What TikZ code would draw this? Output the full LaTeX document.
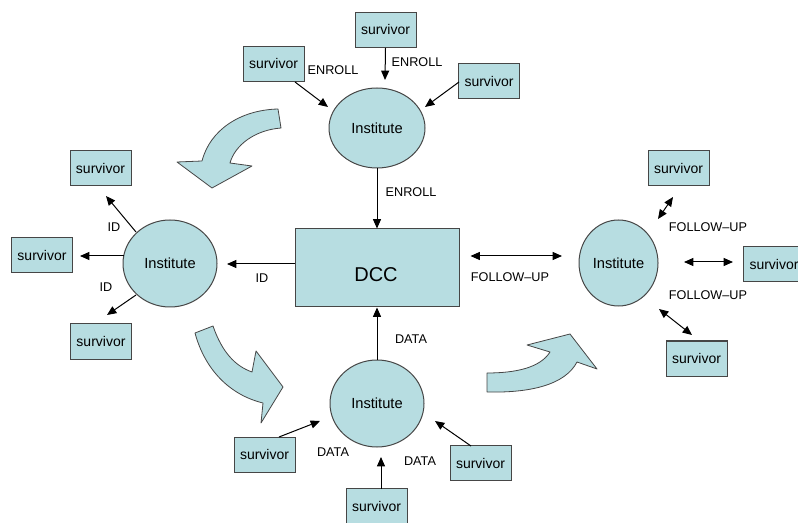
\documentclass[tikz,border=0pt]{standalone}
\usepackage{fontspec}
\setmainfont{Liberation Sans}
\usetikzlibrary{arrows.meta,shapes.geometric,calc}
\definecolor{fillc}{RGB}{183,221,225}
\definecolor{edgec}{RGB}{70,70,70}
\begin{document}
\begin{tikzpicture}[x=0.75pt,y=-0.75pt,
 sbox/.style={draw=edgec,fill=fillc,line width=0.75pt,minimum width=45.75pt,minimum height=26.25pt,inner sep=0pt,font=\fontsize{10.5}{12}\selectfont},
 inst/.style={ellipse,draw=edgec,fill=fillc,line width=0.75pt,inner sep=0pt,font=\fontsize{11}{13}\selectfont},
 lbl/.style={font=\fontsize{9.5}{11}\selectfont,inner sep=0pt},
 arr/.style={-{Triangle[length=7pt,width=6pt]},line width=0.75pt},
 darr/.style={{Triangle[length=7pt,width=6pt]}-{Triangle[length=7pt,width=6pt]},line width=0.75pt},
 bendarrow/.style={draw=edgec,fill=fillc,line width=0.6pt,line join=round}]
\useasboundingbox (0,0) rectangle (798,523);
\clip (0,0) rectangle (798,523);

% curved arrows
\path[bendarrow] (278,109) -- (281,128) .. controls (255,130) and (235,145) .. (230,163)
  -- (252,166) -- (212,188) -- (177,162) -- (202,161) .. controls (210,130) and (240,110) .. cycle;
\path[bendarrow] (195,333) -- (213,326) .. controls (222,352) and (235,366) .. (252,372)
  -- (256,351) -- (283,387) -- (261,423) -- (263,403) .. controls (230,395) and (205,370) .. cycle;
\path[bendarrow] (487,373) -- (487,392) .. controls (530,393) and (565,385) .. (577,362)
  -- (597,369) -- (570,334) -- (527,345) -- (550,352) .. controls (540,368) and (515,373) .. cycle;

% central box
\node[draw=edgec,fill=fillc,line width=0.75pt,minimum width=123pt,minimum height=58.5pt,inner sep=0pt,font=\fontsize{15}{18}\selectfont] (dcc) at (377,268) {};
\node[font=\fontsize{15}{18}\selectfont,inner sep=0pt] (dcct) at (376,275) {DCC};

% institutes
\node[inst,minimum width=72pt,minimum height=60pt] (it) at (377,128) {Institute};
\node[inst,minimum width=70.5pt,minimum height=65.25pt] (il) at (170,263.5) {Institute};
\node[inst,minimum width=59.25pt,minimum height=64.5pt] (ir) at (618.5,263) {Institute};
\node[inst,minimum width=70.5pt,minimum height=65.25pt] (ib) at (377,403.5) {Institute};

% survivors
\node[sbox] (stc) at (385.5,30) {survivor};
\node[sbox] (stl) at (273.5,64) {survivor};
\node[sbox] (str) at (489,81.5) {survivor};
\node[sbox] (slt) at (100.5,168) {survivor};
\node[sbox] (slm) at (42,255) {survivor};
\node[sbox] (slb) at (101,341.5) {survivor};
\node[sbox] (srt) at (678.5,168) {survivor};
\node[sbox,minimum width=46.5pt] (srr) at (774,264) {survivor};
\node[sbox] (srb) at (696.5,358.5) {survivor};
\node[sbox] (sbl) at (264.5,454.5) {survivor};
\node[sbox] (sbc) at (376.5,506) {survivor};
\node[sbox] (sbr) at (480.5,463) {survivor};

% top cluster
\draw[arr] ($(stl)+(21.5,18)$) -- ($(it)+(-49,-21)$);
\draw[arr] (stc.south) -- ($(it)+(8,-48)$);
\draw[arr] ($(str)+(-30,0.5)$) -- ($(it)+(48,-21)$);
\draw[arr] (it.south) -- (dcc.north);
\node[lbl] (le1) at (333,70) {ENROLL};
\node[lbl] (le2) at (417,62) {ENROLL};
\node[lbl] (le3) at (411,192) {ENROLL};

% left cluster
\draw[arr] ($(dcc.west)+(0,-4)$) -- ($(il)+(57,0.5)$);
\draw[arr] ($(il)+(-34,-31.5)$) -- ($(slt)+(5.5,28)$);
\draw[arr] ($(il)+(-46,-7.5)$) -- ($(slm)+(38,1)$);
\draw[arr] ($(il)+(-34,31.5)$) -- ($(slb)+(6,-26.5)$);
\node[lbl] (li1) at (262,278) {ID};
\node[lbl] (li2) at (114,227) {ID};
\node[lbl] (li3) at (106,287) {ID};

% right cluster
\draw[darr] ($(dcc.east)+(11,-12)$) -- ($(ir)+(-56.5,-7)$);
\draw[darr] ($(ir)+(39.5,-44)$) -- ($(srt)+(-5.5,29)$);
\draw[darr] ($(ir)+(65.5,-1)$) -- ($(srr)+(-41,-2)$);
\draw[darr] ($(ir)+(40.5,46)$) -- ($(srb)+(-4.5,-23.5)$);
\node[lbl] (lf1) at (510,277) {FOLLOW–UP};
\node[lbl] (lf2) at (708,227) {FOLLOW–UP};
\node[lbl] (lf3) at (708,295) {FOLLOW–UP};

% bottom cluster
\draw[arr] (ib.north) -- (dcc.south);
\draw[arr] ($(sbl)+(14.5,-17.5)$) -- ($(ib)+(-57,17.5)$);
\draw[arr] ($(sbc)+(4.5,-17)$) -- ($(ib)+(4,53.5)$);
\draw[arr] ($(sbr)+(-9.5,-17)$) -- ($(ib)+(58,17.5)$);
\node[lbl] (ld1) at (411,339) {DATA};
\node[lbl] (ld2) at (333,452) {DATA};
\node[lbl] (ld3) at (420,461) {DATA};
\end{tikzpicture}
\end{document}
